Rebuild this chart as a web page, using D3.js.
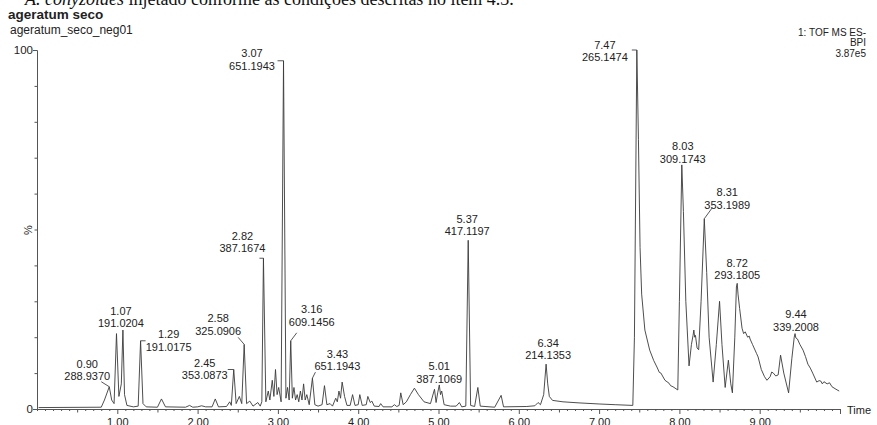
<!DOCTYPE html>
<html>
<head>
<meta charset="utf-8">
<script src="https://cdn.jsdelivr.net/npm/d3@7"></script>
<style>
  html, body { margin: 0; padding: 0; background: #fff; overflow: hidden; }
  text { font-family: "Liberation Sans", Arial, sans-serif; fill: #222; }
</style>
</head>
<body>
<div class="chart-container"></div>
<script>
// BPI chromatogram, time (min) vs % intensity
const trace = [
  [0.02,0.4],[0.80,0.5],[0.84,2.5],[0.90,6.2],[0.93,2.5],[0.96,1.5],[0.99,21],[1.02,3.5],[1.05,7],[1.07,22],
  [1.09,4],[1.12,1],[1.20,0.6],[1.26,0.8],[1.29,19],[1.32,1.5],[1.36,0.6],[1.50,0.5],[1.55,2.8],[1.60,0.6],
  [1.85,0.5],[1.90,1.0],[1.94,0.5],[2.00,0.6],[2.05,0.9],[2.10,0.6],[2.18,0.6],[2.22,2.8],[2.26,0.6],[2.36,0.7],
  [2.40,2],[2.42,1],[2.45,11],[2.48,1.5],[2.52,3.5],[2.55,1.5],[2.58,18],[2.61,1.5],[2.65,2.2],[2.69,0.8],
  [2.75,1.8],[2.78,0.8],[2.80,2],[2.82,42],[2.85,2],[2.88,5],[2.90,2.5],[2.93,8],[2.95,3.5],[2.97,11],
  [2.99,4],[3.01,6],[3.04,2],[3.07,97],[3.10,3],[3.12,6],[3.14,2.5],[3.16,19],[3.18,3],[3.20,6],
  [3.22,2.5],[3.24,4],[3.26,2],[3.28,5],[3.30,2.5],[3.32,7],[3.34,2.5],[3.36,4],[3.39,1.2],[3.43,8.6],
  [3.46,1.2],[3.50,0.8],[3.55,1.2],[3.58,6.5],[3.61,1.2],[3.65,1.5],[3.68,0.8],[3.72,3],[3.74,2],[3.76,5],
  [3.78,3],[3.80,7.5],[3.83,3.5],[3.86,1],[3.90,1],[3.93,4],[3.96,1],[4.00,1.2],[4.02,4],[4.05,1],
  [4.10,1.2],[4.12,3.5],[4.15,1.8],[4.17,2.2],[4.20,0.8],[4.26,0.7],[4.28,1.5],[4.31,0.6],[4.42,0.6],[4.45,1.2],
  [4.48,0.7],[4.51,1],[4.53,4.5],[4.56,1.2],[4.60,2],[4.65,4],[4.70,5.8],[4.75,4],[4.82,2],[4.90,1.5],
  [4.95,5.5],[4.97,1.8],[4.99,4.5],[5.01,6.7],[5.025,4],[5.04,5],[5.07,1.2],[5.15,0.8],[5.22,0.8],[5.26,1.8],
  [5.29,0.6],[5.34,0.8],[5.37,47],[5.40,1],[5.45,0.7],[5.49,6],[5.52,0.8],[5.70,0.5],[5.78,3.8],[5.81,0.6],
  [6.10,0.7],[6.20,0.9],[6.24,1.8],[6.27,1.2],[6.31,4],[6.34,12.5],[6.36,7],[6.38,3.5],[6.42,2.4],[6.55,2.0],
  [6.75,1.7],[7.00,1.4],[7.20,1.2],[7.42,1.0],[7.44,20],[7.47,100],[7.49,75],[7.51,45],[7.53,32],[7.57,22],
  [7.63,16.4],[7.68,13.5],[7.72,11.7],[7.75,10.2],[7.77,10],[7.82,8],[7.87,7.2],[7.89,6.5],[7.92,6.2],[7.98,5.3],
  [8.00,30],[8.03,68],[8.05,55],[8.08,30],[8.12,12],[8.15,18],[8.17,20.5],[8.18,22],[8.19,20],[8.20,20.5],
  [8.22,17],[8.24,16.5],[8.27,30],[8.31,53],[8.34,38],[8.37,20],[8.42,7.5],[8.46,18],[8.50,30],[8.53,18],
  [8.57,6],[8.61,13.6],[8.64,7],[8.66,4.5],[8.69,20],[8.71,34],[8.72,35],[8.73,32],[8.75,28],[8.78,22.5],
  [8.80,21],[8.82,21.5],[8.85,20],[8.87,20.3],[8.88,19.5],[8.91,18],[8.93,17],[8.96,15.5],[8.98,14.5],[9.02,11],
  [9.06,9],[9.09,8],[9.13,9],[9.15,10.3],[9.17,10],[9.20,9.2],[9.23,9.5],[9.26,15],[9.30,10],[9.36,4.5],
  [9.40,14],[9.43,20],[9.44,21],[9.45,19.8],[9.47,19.5],[9.50,18],[9.54,16.4],[9.57,14.6],[9.60,12.5],[9.63,11.4],
  [9.66,10],[9.71,7.5],[9.74,7.9],[9.76,7.8],[9.78,7.0],[9.80,7.6],[9.84,7],[9.87,7.3],[9.90,6.2],[9.95,5.5],[9.99,5]
];

// labelled peaks
const peakTimes = ["0.90","1.07","1.29","2.45","2.58","2.82","3.07","3.16","3.43","5.01","5.37","6.34","7.47","8.03","8.31","8.72","9.44"];
const peakMz = ["288.9370","191.0204","191.0175","353.0873","325.0906","387.1674","651.1943","609.1456","651.1943",
                "387.1069","417.1197","214.1353","265.1474","309.1743","353.1989","293.1805","339.2008"];

const xTickLabels = ["1.00","2.00","3.00","4.00","5.00","6.00","7.00","8.00","9.00"];
const yTickLabels = ["0","100"];
const infoLines = ["1: TOF MS ES-","BPI","3.87e5"];

// label placement relative to the apex: [text dx, 2nd line dy, leader x, leader y] (leader null = none)
const labelLayout = [
  [-22,-6.7,-8,-5],[-2,-3,null,null],[28,10,5,0],[-29,9.5,-6,0],[-26,-9.5,-6,-7],[-21,-6,-4,0],
  [-31.5,9,-6,0],[21,-15,6,-8],[25,-8,3,-6],[0,-2,null,null],[-1,-5,null,null],[2,-5,null,null],
  [-32,11,-5,0],[1,-2,null,null],[23,-10,8,-11],[0,-4,null,null],[1,-3,null,null]
];

let width = 877, height = 425;
let svg = d3.select('.chart-container')
  .append('svg')
  .attr('width', width)
  .attr('height', height);

// cut-off caption line from the page above
svg.append("text")
  .attr("x", 25).attr("y", 5)
  .style("font-family", '"Liberation Serif", "Times New Roman", serif')
  .style("font-size", "18px")
  .style("fill", "#111")
  .html('<tspan font-style="italic">A. conyzoides</tspan> injetado conforme as condições descritas no item 4.3.');

svg.append("text").attr("x", 8).attr("y", 19)
  .style("font-size", "13.5px").style("font-weight", "bold")
  .text("ageratum seco");
svg.append("text").attr("x", 10).attr("y", 34)
  .style("font-size", "12px")
  .text("ageratum_seco_neg01");

svg.selectAll(".info")
  .data(infoLines)
  .enter()
  .append("text")
  .attr("class", "info")
  .attr("x", 866)
  .attr("y", function(d, i){ return 35.5 + i*10.5; })
  .attr("text-anchor", "end")
  .style("font-size", "10px")
  .text(function(d){ return d; });

let x = d3.scaleLinear().domain([0, 10]).range([37, 840]);
let y = d3.scaleLinear().domain([0, 100]).range([409, 50]);

// x axis: minor ticks every 0.1 min, labels on whole minutes
let xTicks = d3.range(1, 101).map(function(i){ return i/10; });
let xAxis = svg.append("g")
  .attr("transform", "translate(0," + y(0) + ")")
  .call(d3.axisBottom(x)
    .tickValues(xTicks)
    .tickSizeOuter(0)
    .tickSize(2)
    .tickPadding(6)
    .tickFormat(function(d){
      let k = xTickLabels.indexOf(d.toFixed(2));
      return k >= 0 ? xTickLabels[k] : "";
    }));
xAxis.select(".domain").attr("stroke", "#555");
xAxis.selectAll(".tick line")
  .attr("stroke", "#555")
  .attr("y2", function(d){
    let r = Math.round(d*10);
    return r % 10 == 0 ? 5 : (r % 5 == 0 ? 3.5 : 2);
  });
xAxis.selectAll(".tick text")
  .attr("y", 17)
  .attr("dy", 0)
  .style("font-size", "11px")
  .style("font-family", '"Liberation Sans", Arial, sans-serif')
  .attr("fill", "#222");

// y axis
let yAxis = svg.append("g")
  .attr("transform", "translate(" + x(0) + ",0)")
  .call(d3.axisLeft(y)
    .tickValues(d3.range(0, 101, 10))
    .tickSizeOuter(0)
    .tickSize(2)
    .tickPadding(2)
    .tickFormat(function(d){
      let k = yTickLabels.indexOf(String(d));
      return k >= 0 ? yTickLabels[k] : "";
    }));
yAxis.select(".domain").attr("stroke", "#555");
yAxis.selectAll(".tick line")
  .attr("stroke", "#555")
  .attr("x2", function(d){ return (d == 0 || d == 100) ? -4 : -2.5; });
yAxis.selectAll(".tick text")
  .style("font-size", "11.5px")
  .style("font-family", '"Liberation Sans", Arial, sans-serif')
  .attr("fill", "#222");

svg.append("text")
  .attr("transform", "translate(32,230) rotate(-90)")
  .attr("text-anchor", "middle")
  .style("font-size", "11px")
  .text("%");

svg.append("text").attr("x", 847).attr("y", 414)
  .style("font-size", "11px")
  .text("Time");

// trace
let line = d3.line()
  .x(function(d){ return x(d[0]); })
  .y(function(d){ return y(d[1]); });

svg.append("path")
  .datum(trace)
  .attr("d", line)
  .attr("fill", "none")
  .attr("stroke", "#3a3a3a")
  .attr("stroke-width", 0.9)
  .attr("stroke-linejoin", "miter");

// peak labels
peakTimes.forEach(function(t, i){
  let tv = +t;
  let near = trace.filter(function(p){ return Math.abs(p[0] - tv) <= 0.021; });
  let apex = d3.greatest(near, function(p){ return p[1]; });
  let ax = x(apex[0]), ay = y(apex[1]);
  let lay = labelLayout[i];
  let g = svg.append("g").attr("class", "peak-label");

  g.append("text")
    .attr("x", ax + lay[0]).attr("y", ay + lay[1] - 12.5)
    .attr("text-anchor", "middle")
    .style("font-size", "11px")
    .text(t);
  g.append("text")
    .attr("x", ax + lay[0]).attr("y", ay + lay[1])
    .attr("text-anchor", "middle")
    .style("font-size", "11px")
    .text(peakMz[i]);

  if (lay[2] != null) {
    g.append("line")
      .attr("x1", ax + lay[2]).attr("y1", ay + lay[3])
      .attr("x2", ax).attr("y2", ay)
      .attr("stroke", "#444")
      .attr("stroke-width", 0.9);
  }
});
</script>
</body>
</html>
